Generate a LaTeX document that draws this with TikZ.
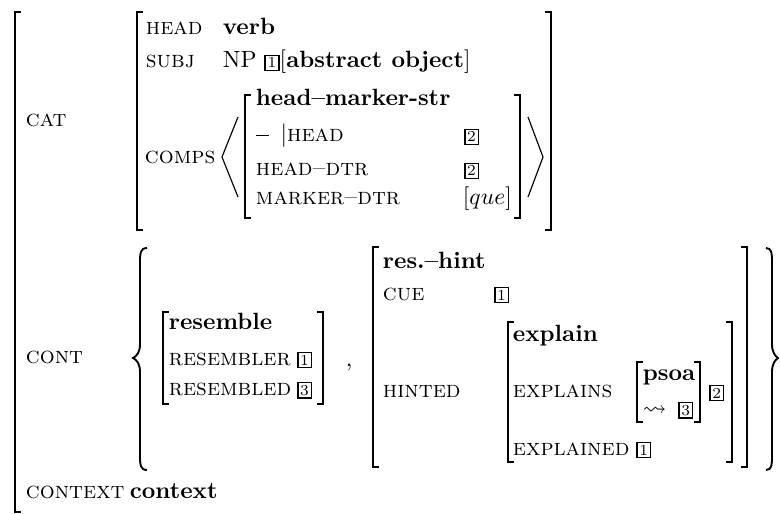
\documentclass[tikz,border=0pt]{standalone}
\usepackage{amsmath}
\usepackage{amssymb}
\usepackage{tikz}

\newcommand{\tagbox}[1]{{\setlength{\fboxsep}{0.7pt}\setlength{\fboxrule}{0.7pt}\fbox{\fontsize{6.5}{7}\selectfont #1}}}

\begin{document}
\begin{tikzpicture}[x=0.425pt,y=-0.425pt,line width=0.8pt]
\tikzstyle{every node}=[inner sep=0pt,anchor=base west]
\tikzstyle{thin}=[line width=0.5pt]
\useasboundingbox (0,0) rectangle (780,513);

% square brackets: x/top/bottom
\foreach \x/\t/\b in {15/12/512,137/12/230,245/95/218,163/312/404,373/247/467,508/322/462,637/362/422}
\draw (\x+6,\t) -| (\x,\b) -- (\x+6,\b);
\foreach \x/\t/\b in {551/12/230,520/95/218,323/312/404,747/247/467,732/322/462,700/362/422}
\draw (\x-6,\t) -| (\x,\b) -- (\x-6,\b);

% list brackets
\draw[thin] (238,117) -- (222,157) -- (238,197);
\draw[thin] (528,117) -- (543,157) -- (528,197);

% set braces
\draw (147,248) .. controls (140,248) and (140,254) .. (140,262) -- (140,344)
  .. controls (140,352) and (137,356) .. (133,358)
  .. controls (137,360) and (140,364) .. (140,372) -- (140,456)
  .. controls (140,464) and (140,470) .. (147,470);
\draw (766,248) .. controls (772,248) and (772,254) .. (772,262) -- (772,344)
  .. controls (772,352) and (775,356) .. (778,358)
  .. controls (775,360) and (772,364) .. (772,372) -- (772,456)
  .. controls (772,464) and (772,470) .. (766,470);

% CAT
\node (cat) at (25,127) {\textsc{cat}};
\node (head) at (145,35) {\textsc{head}};
\node (verb) at (222,35) {\textbf{verb}};
\node (subj) at (145,68) {\textsc{subj}};
\node (np) at (222,68) {NP\ \tagbox{1}$[$\textbf{abstract object}$]$};
\node (comps) at (144,163) {\textsc{comps}};
\node (hms) at (255,106) {\textbf{head--marker-str}};
\node (bar) at (255,142) {\rule[2.4pt]{5.5pt}{0.45pt}\hspace{5pt}$|$\textsc{head}};
\node (bartag) at (463,142) {\tagbox{2}};
\node (hdtr) at (255,176) {\textsc{head--dtr}};
\node (hdtrtag) at (463,176) {\tagbox{2}};
\node (mdtr) at (255,205) {\textsc{marker--dtr}};
\node (que) at (462,205) {$[que]$};

% CONT
\node (cont) at (25,363) {\textsc{cont}};
\node (res) at (168,329) {\textbf{resemble}};
\node (rsr) at (168,365) {\textsc{resembler}};
\node (rsrtag) at (296,365) {\tagbox{1}};
\node (rsd) at (168,395) {\textsc{resembled}};
\node (rsdtag) at (296,395) {\tagbox{3}};
\node (comma) at (345,366) {,};
\node (hint) at (382,268) {\textbf{res.--hint}};
\node (cue) at (382,300) {\textsc{cue}};
\node (cuetag) at (493,300) {\tagbox{1}};
\node (hinted) at (382,397) {\textsc{hinted}};
\node (expl) at (512,341) {\textbf{explain}};
\node (expls) at (512,397) {\textsc{explains}};
\node (psoa) at (642,380) {\textbf{psoa}};
\node (lead) at (642,415) {$\leadsto$};
\node (leadtag) at (677,415) {\tagbox{3}};
\node (psoatag) at (708,398) {\tagbox{2}};
\node (expld) at (512,455) {\textsc{explained}};
\node (expldtag) at (635,455) {\tagbox{1}};

% CONTEXT
\node (context) at (25,498) {\textsc{context}};
\node (ctxval) at (129,498) {\textbf{context}};
\end{tikzpicture}
\end{document}
